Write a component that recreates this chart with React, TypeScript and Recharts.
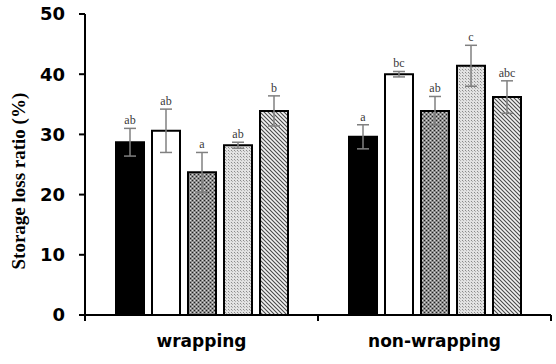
import React from 'react';
import { BarChart, Bar, XAxis, YAxis, ErrorBar, LabelList } from 'recharts';

const categories = ['wrapping', 'non-wrapping'];

const s1 = [28.7, 29.6];
const s2 = [30.6, 40.0];
const s3 = [23.7, 33.9];
const s4 = [28.2, 41.4];
const s5 = [33.9, 36.2];

const e1 = [2.3, 2.0];
const e2 = [3.6, 0.45];
const e3 = [3.3, 2.4];
const e4 = [0.5, 3.4];
const e5 = [2.5, 2.7];

const l1 = ['ab', 'a'];
const l2 = ['ab', 'bc'];
const l3 = ['a', 'ab'];
const l4 = ['ab', 'c'];
const l5 = ['b', 'abc'];

const yTicks = [0, 10, 20, 30, 40, 50];

const data = categories.map((name, i) => ({
  name,
  v1: s1[i], v2: s2[i], v3: s3[i], v4: s4[i], v5: s5[i],
  e1: e1[i], e2: e2[i], e3: e3[i], e4: e4[i], e5: e5[i],
  l1: l1[i], l2: l2[i], l3: l3[i], l4: l4[i], l5: l5[i],
}));

const series = [
  { key: 'v1', err: 'e1', lab: 'l1', errs: e1, vals: s1, fill: '#000000' },
  { key: 'v2', err: 'e2', lab: 'l2', errs: e2, vals: s2, fill: '#ffffff' },
  { key: 'v3', err: 'e3', lab: 'l3', errs: e3, vals: s3, fill: 'url(#pat3)' },
  { key: 'v4', err: 'e4', lab: 'l4', errs: e4, vals: s4, fill: 'url(#pat4)' },
  { key: 'v5', err: 'e5', lab: 'l5', errs: e5, vals: s5, fill: 'url(#pat5)' },
];

const TICK_MARGIN = 20;

// letter sits just above the error bar cap; pixels per unit taken from the bar itself
const makeLetter = (errs: number[], vals: number[]) => (props: any) => {
  const { x, y, width, height, value, index } = props;
  const v = vals[index];
  const ppu = v ? height / v : 0;
  const top = y - errs[index] * ppu;
  return (
    <text
      x={x + width / 2}
      y={top - 4}
      textAnchor="middle"
      style={{ fontFamily: "'Liberation Serif', serif", fontSize: 12, fill: '#3a3a3a' }}
    >
      {value}
    </text>
  );
};

// category label plus small tick marks on the band edges
const CatTick = (props: any) => {
  const { x, y, payload, width, visibleTicksCount } = props;
  const half = payload.offset || (width && visibleTicksCount ? width / visibleTicksCount / 2 : 0);
  const axisY = y - TICK_MARGIN;
  return (
    <g>
      <line x1={x - half} y1={axisY} x2={x - half} y2={axisY + 6} stroke="#000" strokeWidth={2} />
      <line x1={x + half} y1={axisY} x2={x + half} y2={axisY + 6} stroke="#000" strokeWidth={2} />
      <text x={x} y={y} dy="0.71em" textAnchor="middle" fontFamily="'DejaVu Sans', sans-serif" fontWeight="bold" fontSize={17} fill="#000">
        {payload.value}
      </text>
    </g>
  );
};

export default function App() {
  return (
    <div style={{ position: 'absolute', left: 0, top: 0, width: 556, height: 364, background: '#fff' }}>
      <BarChart
        width={556}
        height={364}
        data={data}
        margin={{ top: 14, right: 5, bottom: 0, left: 0 }}
        barSize={28}
        barGap={8}
      >
        <defs>
          <pattern id="pat3" width="4" height="4" patternUnits="userSpaceOnUse">
            <rect width="4" height="4" fill="#8c8c8c" />
            <rect x="0" y="0" width="1" height="1" fill="#222" />
            <rect x="2" y="2" width="1" height="1" fill="#222" />
            <rect x="2" y="0" width="1" height="1" fill="#d8d8d8" />
            <rect x="0" y="2" width="1" height="1" fill="#d8d8d8" />
          </pattern>
          <pattern id="pat4" width="3" height="3" patternUnits="userSpaceOnUse">
            <rect width="3" height="3" fill="#e2e2e2" />
            <rect x="0" y="0" width="1" height="1" fill="#8a8a8a" />
            <rect x="1" y="1" width="1" height="1" fill="#b0b0b0" />
          </pattern>
          <pattern id="pat5" width="4" height="4" patternUnits="userSpaceOnUse">
            <rect width="4" height="4" fill="#f2f2f2" />
            <path d="M-1,-1 L5,5 M-1,3 L1,5 M3,-1 L5,1" stroke="#4a4a4a" strokeWidth="1.1" />
          </pattern>
        </defs>
        <XAxis
          dataKey="name"
          tickLine={false}
          tickSize={0}
          axisLine={{ stroke: '#000', strokeWidth: 2 }}
          tick={<CatTick />}
          tickMargin={TICK_MARGIN}
          height={49}
          interval={0}
        />
        <YAxis
          domain={[0, 50]}
          ticks={yTicks}
          width={85}
          axisLine={{ stroke: '#000', strokeWidth: 2 }}
          tickLine={{ stroke: '#000', strokeWidth: 2 }}
          tickSize={6}
          tickMargin={14}
          tick={{ fill: '#000', fontSize: 18, fontWeight: 'bold', fontFamily: "'DejaVu Sans', sans-serif" }}
          label={{
            value: 'Storage loss ratio (%)',
            angle: -90,
            position: 'insideLeft',
            dx: 13,
            dy: 105,
            style: { fontFamily: "'Liberation Serif', serif", fontWeight: 'bold', fontSize: 19, fill: '#000' },
          }}
        />
        {series.map((s) => (
          <Bar key={s.key} dataKey={s.key} fill={s.fill} stroke="#000" strokeWidth={2} isAnimationActive={false}>
            <ErrorBar dataKey={s.err} width={6} stroke="#808080" strokeWidth={1.5} direction="y" />
            <LabelList dataKey={s.lab} content={makeLetter(s.errs, s.vals)} />
          </Bar>
        ))}
      </BarChart>
    </div>
  );
}
